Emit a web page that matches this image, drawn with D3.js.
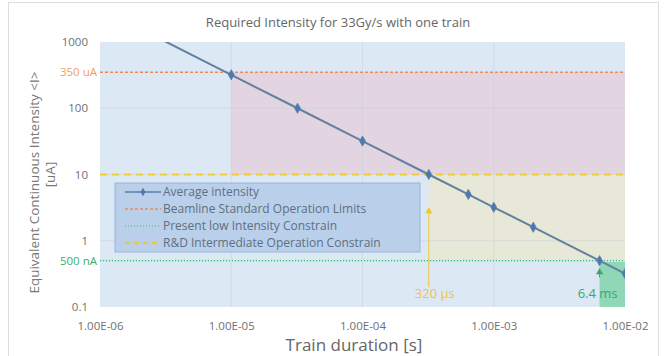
<!DOCTYPE html>
<html lang="en">
<head>
    <meta charset="UTF-8">
    <title>Required Intensity</title>
    <script src="https://d3js.org/d3.v7.min.js"></script>
    <style>
        body { margin: 0; background: #fff; }
        text { font-family: "Open Sans", sans-serif; }
    </style>
</head>
<body>
    <svg id="chart" width="670" height="356"></svg>
    <script>
    // train duration [s] and average intensity [uA]
    const durations = [1e-6, 1e-5, 3.2e-5, 1e-4, 3.2e-4, 6.4e-4, 1e-3, 2e-3, 6.4e-3, 1e-2];
    const intensities = [3200, 320, 100, 32, 10, 5, 3.2, 1.6, 0.5, 0.32];
    const xTicks = [1e-6, 1e-5, 1e-4, 1e-3, 1e-2];
    const xTickLabels = ["1.00E-06", "1.00E-05", "1.00E-04", "1.00E-03", "1.00E-02"];
    const yTicks = [1000, 100, 10, 1, 0.1];
    const yTickLabels = ["1000", "100", "10", "1", "0.1"];
    const beamlineLimit = 350;
    const rdLimit = 10;
    const lowLimit = 0.5;
    const rdDuration = 3.2e-4;
    const lowDuration = 6.4e-3;
    const legendLabels = ["Average intensity", "Beamline Standard Operation Limits",
        "Present low Intensity Constrain", "R&D Intermediate Operation Constrain"];

    const svg = d3.select("#chart");
    const margin = { left: 100, right: 45, top: 42, bottom: 49 };
    const width = 670, height = 356;
    const w = width - margin.left - margin.right;
    const h = height - margin.top - margin.bottom;

    svg.append("rect").attr("x", 8.5).attr("y", 2.5).attr("width", 650).attr("height", 360)
        .attr("fill", "#fff").attr("stroke", "#dedede");

    const x = d3.scaleLog().domain([1e-6, 1e-2]).range([0, w]);
    const y = d3.scaleLog().domain([0.1, 1000]).range([h, 0]);

    const g = svg.append("g").attr("transform", `translate(${margin.left},${margin.top})`);

    g.append("clipPath").attr("id", "clip").append("rect").attr("width", w).attr("height", h);

    // background zones
    const zones = [
        { x0: 1e-6, x1: 1e-2, y0: 0.1, y1: 1000, fill: "#dce8f4" },
        { x0: 1e-5, x1: 1e-2, y0: rdLimit, y1: beamlineLimit, fill: "#e3d4e2" },
        { x0: rdDuration, x1: 1e-2, y0: lowLimit, y1: rdLimit, fill: "#e7e8d7" },
        { x0: lowDuration, x1: 1e-2, y0: 0.1, y1: lowLimit, fill: "#8fd7b6" }
    ];
    g.selectAll("rect.zone").data(zones).enter().append("rect")
        .attr("class", "zone")
        .attr("x", d => x(d.x0)).attr("width", d => x(d.x1) - x(d.x0))
        .attr("y", d => y(d.y1)).attr("height", d => y(d.y0) - y(d.y1))
        .attr("fill", d => d.fill);

    // grid
    g.selectAll("line.vgrid").data(xTicks.slice(1, -1)).enter().append("line")
        .attr("x1", d => x(d)).attr("x2", d => x(d)).attr("y1", 0).attr("y2", h)
        .attr("stroke", "#c9d2dc").attr("stroke-width", 0.8).attr("opacity", 0.7);
    g.selectAll("line.hgrid").data(yTicks.slice(1, -1)).enter().append("line")
        .attr("x1", 0).attr("x2", w).attr("y1", d => y(d)).attr("y2", d => y(d))
        .attr("stroke", "#c9d2dc").attr("stroke-width", 0.8).attr("opacity", 0.7);

    // limit lines
    g.append("line").attr("x1", 0).attr("x2", w).attr("y1", y(beamlineLimit)).attr("y2", y(beamlineLimit))
        .attr("stroke", "#ee8a55").attr("stroke-width", 1.5).attr("stroke-dasharray", "3,2");
    g.append("line").attr("x1", 0).attr("x2", w).attr("y1", y(rdLimit)).attr("y2", y(rdLimit))
        .attr("stroke", "#f2cc38").attr("stroke-width", 2).attr("stroke-dasharray", "7,5");
    g.append("line").attr("x1", 0).attr("x2", w).attr("y1", y(lowLimit)).attr("y2", y(lowLimit))
        .attr("stroke", "#bfeee4").attr("stroke-width", 2.5);
    g.append("line").attr("x1", 0).attr("x2", w).attr("y1", y(lowLimit)).attr("y2", y(lowLimit))
        .attr("stroke", "#44b874").attr("stroke-width", 1.2).attr("stroke-dasharray", "1,2");

    // legend
    const lg = g.append("g").attr("transform", "translate(15,141)");
    lg.append("rect").attr("width", 305).attr("height", 69)
        .attr("fill", "#b9cfea").attr("stroke", "#96b4da").attr("stroke-width", 1);
    const legendStyles = [
        { stroke: "#5a7fa8", dash: null, width: 1.5 },
        { stroke: "#ee8a55", dash: "3,2", width: 1.5 },
        { stroke: "#44b874", dash: "1,2", width: 1.2 },
        { stroke: "#e0d040", dash: "5,4", width: 2.5 }
    ];
    legendLabels.forEach((lab, i) => {
        const ly = 9 + i * 17;
        const s = legendStyles[i];
        lg.append("line").attr("x1", 10).attr("x2", 46).attr("y1", ly).attr("y2", ly)
            .attr("stroke", s.stroke).attr("stroke-width", s.width)
            .attr("stroke-dasharray", s.dash);
        if (i === 0) {
            lg.append("path").attr("d", d3.symbol(d3.symbolDiamond, 20)())
                .attr("transform", `translate(28,${ly})`).attr("fill", "#4a78b5");
        }
        lg.append("text").attr("x", 48).attr("y", ly).attr("dy", "0.35em")
            .attr("font-size", 12).attr("fill", "#5f6f82").text(lab);
    });

    // series
    const pts = durations.map((d, i) => ({ t: d, v: intensities[i] }));
    const plot = g.append("g").attr("clip-path", "url(#clip)");
    plot.append("path").datum(pts)
        .attr("d", d3.line().x(d => x(d.t)).y(d => y(d.v)))
        .attr("fill", "none").attr("stroke", "#62809f").attr("stroke-width", 2);
    plot.selectAll("path.mk").data(pts).enter().append("path")
        .attr("class", "mk")
        .attr("d", d3.symbol(d3.symbolDiamond, 30)())
        .attr("transform", d => `translate(${x(d.t)},${y(d.v)})`)
        .attr("fill", "#4a78b5").attr("stroke", "#62809f").attr("stroke-width", 0.8);

    // annotations
    const yellow = "#f2c53d", green = "#3aa86c";
    g.append("line").attr("x1", x(rdDuration)).attr("x2", x(rdDuration))
        .attr("y1", y(0.2)).attr("y2", y(3))
        .attr("stroke", yellow).attr("stroke-width", 1);
    g.append("path").attr("d", d3.symbol(d3.symbolTriangle, 22)())
        .attr("transform", `translate(${x(rdDuration)},${y(3) + 2})`).attr("fill", yellow);
    g.append("text").attr("x", x(rdDuration) + 6).attr("y", y(0.16)).attr("dy", "0.35em")
        .attr("text-anchor", "middle").attr("font-size", 13).attr("fill", yellow).text("320 µs");
    g.append("line").attr("x1", x(lowDuration)).attr("x2", x(lowDuration))
        .attr("y1", y(0.28)).attr("y2", y(0.36))
        .attr("stroke", green).attr("stroke-width", 1);
    g.append("path").attr("d", d3.symbol(d3.symbolTriangle, 22)())
        .attr("transform", `translate(${x(lowDuration)},${y(0.36) + 2})`).attr("fill", green);
    g.append("text").attr("x", x(lowDuration) + 18).attr("y", y(0.16)).attr("dy", "0.35em")
        .attr("text-anchor", "end").attr("font-size", 13).attr("fill", green).text("6.4 ms");

    // axes
    const xAxis = d3.axisBottom(x).tickValues(xTicks)
        .tickFormat((d, i) => xTickLabels[i]).tickSize(0).tickPadding(15);
    const xa = g.append("g").attr("transform", `translate(0,${h})`).call(xAxis);
    const yAxis = d3.axisLeft(y).tickValues(yTicks)
        .tickFormat((d, i) => yTickLabels[i]).tickSize(0).tickPadding(12);
    const ya = g.append("g").call(yAxis);
    [xa, ya].forEach(a => {
        a.select(".domain").remove();
        a.selectAll("text").attr("font-family", "Open Sans").attr("font-size", 11.5).attr("fill", "#707070");
    });

    g.append("text").attr("x", -3).attr("y", y(beamlineLimit)).attr("dy", "0.35em")
        .attr("text-anchor", "end").attr("font-size", 11.5).attr("fill", "#f0a060").text("350 uA");
    g.append("text").attr("x", -3).attr("y", y(lowLimit)).attr("dy", "0.35em")
        .attr("text-anchor", "end").attr("font-size", 11.5).attr("fill", "#40b060").text("500 nA");

    // titles
    svg.append("text").attr("x", 338).attr("y", 27).attr("text-anchor", "middle")
        .attr("font-size", 13).attr("fill", "#666").text("Required Intensity for 33Gy/s with one train");
    svg.append("text").attr("x", 354).attr("y", 351).attr("text-anchor", "middle")
        .attr("font-size", 17).attr("fill", "#666").text("Train duration [s]");
    svg.append("text").attr("transform", `translate(39,${margin.top + h / 2 + 8}) rotate(-90)`)
        .attr("text-anchor", "middle").attr("font-size", 13.5).attr("fill", "#777")
        .text("Equivalent Continuous Intensity <I>");
    svg.append("text").attr("transform", `translate(55,${margin.top + h / 2}) rotate(-90)`)
        .attr("text-anchor", "middle").attr("font-size", 13.5).attr("fill", "#777")
        .text("[uA]");
    </script>
</body>
</html>
